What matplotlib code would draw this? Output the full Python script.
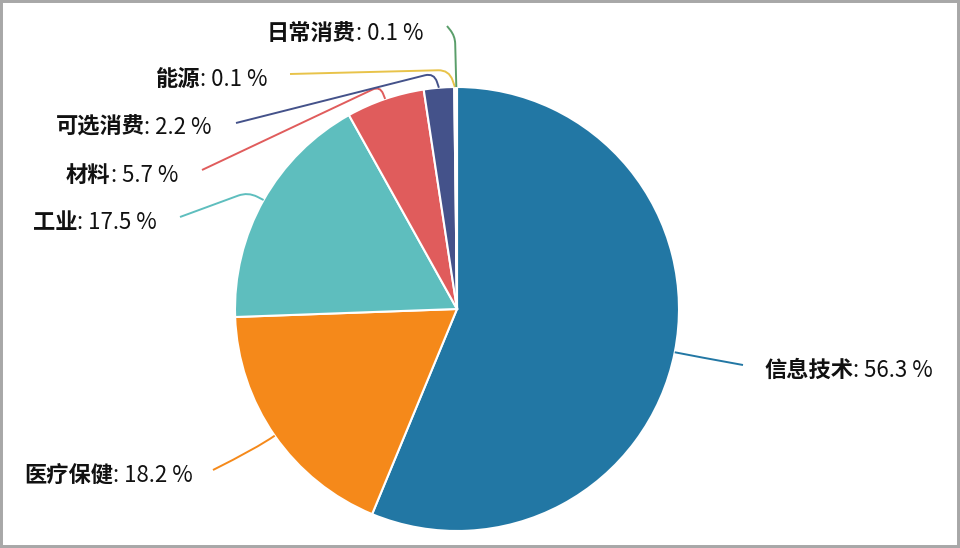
import matplotlib
matplotlib.use('Agg')
import matplotlib.pyplot as plt
import numpy as np
from matplotlib.path import Path
from matplotlib.patches import PathPatch, Rectangle

plt.rcParams['font.family'] = ['Noto Sans CJK SC', 'DejaVu Sans']

# data
sectors = ['信息技术', '医疗保健', '工业', '材料', '可选消费', '能源', '日常消费']
weights = [56.3, 18.2, 17.5, 5.7, 2.2, 0.1, 0.1]
colors = ['#2277a4', '#f5891a', '#5ebebe', '#e05c5c', '#44528a', '#e8c34a', '#5a9e6a']

# label layout (pixel coords, y pointing down)
label_x = [764, 193, 157, 178, 212, 268, 423]
label_y = [369, 474, 221, 174, 126, 78, 32]
label_side = ['left', 'right', 'right', 'right', 'right', 'right', 'right']
line_end = [(743, 365), (213, 470), (180, 217), (202, 170), (236, 123), (290, 74), (447, 26)]
elbow = [None, None, (248, 192), (380, 86), (434, 73), (449, 70), (455, 36)]

cx, cy, r = 457, 309, 222
fs = 16


def leader(a, b, c):
    # straight pieces with a rounded corner at b
    a, b, c = np.array(a, float), np.array(b, float), np.array(c, float)
    d = min(np.linalg.norm(a - b), np.linalg.norm(c - b)) * 0.6
    p1 = b + (a - b) / np.linalg.norm(a - b) * d
    p2 = b + (c - b) / np.linalg.norm(c - b) * d
    verts = [a, p1, b, p2, c]
    codes = [Path.MOVETO, Path.LINETO, Path.CURVE3, Path.CURVE3, Path.LINETO]
    return Path(verts, codes)


def smooth_leader(a, b, c):
    return Path([a, b, c], [Path.MOVETO, Path.CURVE3, Path.CURVE3])


fig = plt.figure(figsize=(9.6, 5.48), dpi=100)
ax = fig.add_axes([0, 0, 1, 1])

# y axis is inverted, so counterclock here runs clockwise on screen
wedges, _ = ax.pie(weights, colors=colors, startangle=-90, counterclock=True,
                   center=(cx, cy), radius=r,
                   wedgeprops=dict(edgecolor='white', linewidth=1.5))
ax.set_xlim(0, 960)
ax.set_ylim(548, 0)
ax.axis('off')

renderer = fig.canvas.get_renderer()

for i, w in enumerate(wedges):
    th = np.deg2rad((w.theta1 + w.theta2) / 2)
    a = (cx + r * np.cos(th), cy + r * np.sin(th))
    if elbow[i] is None:
        b = (cx + (r + 22) * np.cos(th), cy + (r + 22) * np.sin(th))
        path = smooth_leader(a, b, line_end[i])
    else:
        path = leader(a, elbow[i], line_end[i])
    ax.add_patch(PathPatch(path, fill=False, edgecolor=colors[i], linewidth=1.4))

    num = ': {} %'.format(weights[i])
    base = label_y[i] + 8
    if label_side[i] == 'left':
        t1 = ax.text(label_x[i], base, sectors[i], ha='left', va='baseline',
                     fontsize=fs, fontweight='bold', color='#111111')
        wpx = t1.get_window_extent(renderer).width
        ax.annotate(num, xy=(label_x[i], base), xytext=(wpx, 0),
                    textcoords='offset pixels', ha='left', va='baseline',
                    fontsize=fs, color='#111111')
    else:
        t2 = ax.text(label_x[i], base, num, ha='right', va='baseline',
                     fontsize=fs, color='#111111')
        wpx = t2.get_window_extent(renderer).width
        ax.annotate(sectors[i], xy=(label_x[i], base), xytext=(-wpx, 0),
                    textcoords='offset pixels', ha='right', va='baseline',
                    fontsize=fs, fontweight='bold', color='#111111')

fig.patches.append(Rectangle((0, 0), 1, 1, transform=fig.transFigure,
                             fill=False, edgecolor='#a8a8a8', linewidth=4.3))

fig.savefig('out.png', dpi=100)
